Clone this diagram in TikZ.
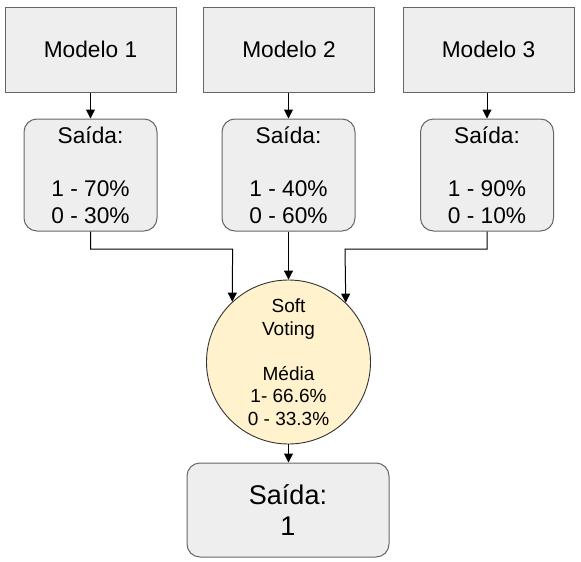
\documentclass[tikz,border=0pt]{standalone}
\usepackage{fontspec}
\setmainfont{Liberation Sans}
\usetikzlibrary{arrows.meta}
\definecolor{boxfill}{HTML}{EEEEEE}
\definecolor{boxline}{HTML}{666666}
\definecolor{circfill}{HTML}{FFF2CC}
\begin{document}
\begin{tikzpicture}[x=1pt,y=-1pt,
  model/.style={draw=boxline,fill=boxfill,line width=1pt,minimum width=171pt,minimum height=85pt,inner sep=0pt,font=\fontsize{22.7}{26}\selectfont},
  outbox/.style={draw=boxline,fill=boxfill,line width=1pt,rounded corners=13pt,minimum width=133pt,minimum height=112pt,inner sep=0pt,align=center,font=\fontsize{22.7}{26.7}\selectfont},
  vote/.style={draw=black!80,fill=circfill,line width=0.9pt,circle,minimum size=164pt,inner sep=0pt,align=center,font=\fontsize{19}{22.5}\selectfont},
  final/.style={draw=boxline,fill=boxfill,line width=1pt,rounded corners=13pt,minimum width=202pt,minimum height=94pt,inner sep=0pt,align=center,font=\fontsize{27}{31}\selectfont},
  arr/.style={draw=black,line width=1pt,-{Triangle[length=9pt,width=9pt]}}]
\useasboundingbox (0,0) rectangle (581,562);
\node[model] (m1) at (90.5,49.5) {Modelo 1};
\node[model] (m2) at (289,49.5) {Modelo 2};
\node[model] (m3) at (488.5,49.5) {Modelo 3};
\node[outbox] (s1) at (90.5,175) {Saída:\\[26.7pt]1 - 70\%\\0 - 30\%};
\node[outbox] (s2) at (288.5,175) {Saída:\\[26.7pt]1 - 40\%\\0 - 60\%};
\node[outbox] (s3) at (487,175) {Saída:\\[26.7pt]1 - 90\%\\0 - 10\%};
\node[vote] (c) at (288.5,362) {Soft\\Voting\\[22.5pt]Média\\1- 66.6\%\\0 - 33.3\%};
\node[final] (o) at (288,510) {Saída:\\1};
\coordinate (j1) at (232.6,249);
\coordinate (j3) at (345,249);
\draw[arr] (m1.south) -- (s1.north);
\draw[arr] (m2.south -| s2.north) -- (s2.north);
\draw[arr] (m3.south -| s3.north) -- (s3.north);
\draw[arr] (s1.south) |- (j1) -- (c.133);
\draw[arr] (s2.south -| c.north) -- (c.north);
\draw[arr] (s3.south) |- (j3) -- (c.46.4);
\draw[arr] (c.south) -- (c.south |- o.north);
\end{tikzpicture}
\end{document}
